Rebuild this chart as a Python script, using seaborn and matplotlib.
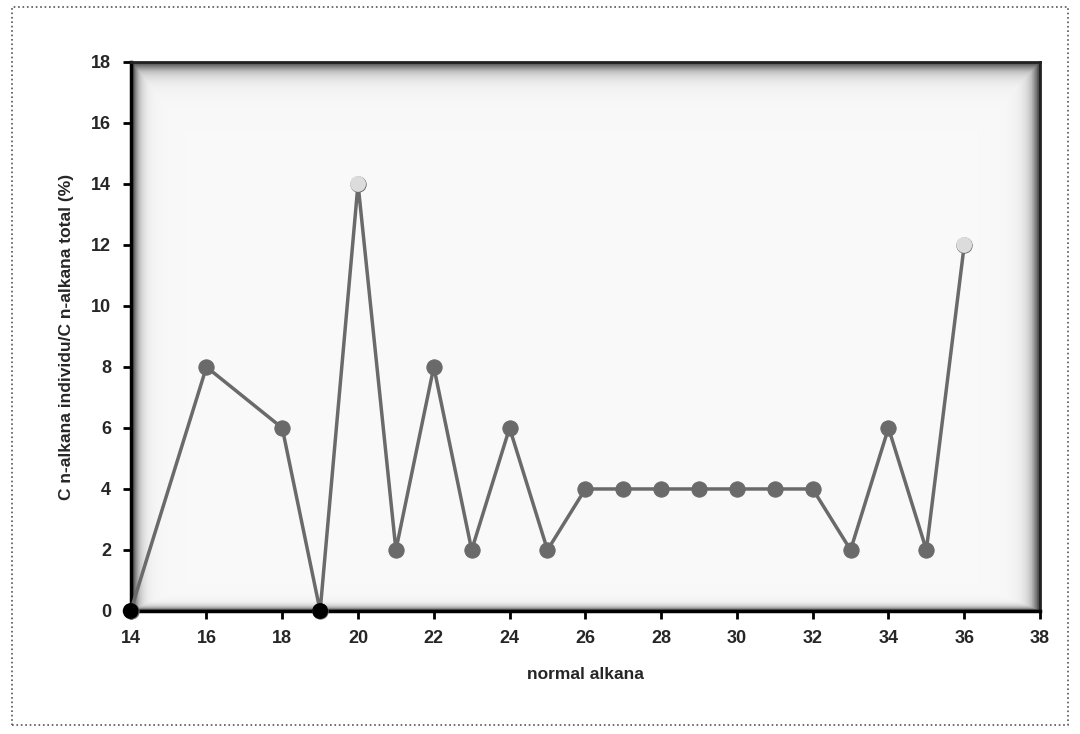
import numpy as np
import pandas as pd
import matplotlib
matplotlib.use("Agg")
import matplotlib.pyplot as plt
import seaborn as sns
from matplotlib.patches import Rectangle

sns.set_style("white")
plt.rcParams['font.family'] = ['Liberation Sans', 'DejaVu Sans']

# carbon number of the n-alkane and its share of the total
carbon = [14, 16, 18, 19, 20, 21, 22, 23, 24, 25, 26, 27, 28, 29, 30, 31, 32, 33, 34, 35, 36]
percent = [0, 8, 6, 0, 14, 2, 8, 2, 6, 2, 4, 4, 4, 4, 4, 4, 4, 2, 6, 2, 12]
df = pd.DataFrame({'carbon': carbon, 'percent': percent})

fig = plt.figure(figsize=(10.8, 7.34), dpi=100)
ax = fig.add_axes([0.121, 0.1676, 0.842, 0.748])

# scanned-look shading around the plot area
n = 500
xx = np.linspace(0, 1, n)
yy = np.linspace(0, 1, n)
X, Y = np.meshgrid(xx, yy)
dl = X / 0.010
dr = (1 - X) / 0.012
dt = (1 - Y) / 0.022
db = Y / 0.008
d = np.minimum.reduce([dl, dr, dt, db])
shade = 0.85 * np.exp(-d * 1.2) + 0.05
ax.imshow(shade, extent=[0, 1, 0, 1], transform=ax.transAxes, cmap='Greys',
          vmin=0, vmax=1, origin='lower', aspect='auto', zorder=0)

sns.lineplot(data=df, x='carbon', y='percent', ax=ax, color='#6a6a6a',
             linewidth=2.5, marker='o', markersize=11, markeredgecolor='#6a6a6a',
             zorder=3, clip_on=False)
# faded peaks and black zero points as in the scan
faded = df[df['percent'] >= 12]
zeros = df[df['percent'] == 0]
sns.scatterplot(data=faded, x='carbon', y='percent', ax=ax, color='#dcdcdc',
                s=130, edgecolor='none', zorder=4, clip_on=False)
sns.scatterplot(data=zeros, x='carbon', y='percent', ax=ax, color='black',
                s=130, edgecolor='none', zorder=5, clip_on=False)

ax.set_xlim(14, 38)
ax.set_ylim(0, 18)
ax.set_xticks(range(14, 39, 2))
ax.set_yticks(range(0, 19, 2))
ax.tick_params(axis='both', direction='out', length=6, width=2, color='black',
               labelsize=13, pad=8, bottom=True, left=True)
for lab in ax.get_xticklabels() + ax.get_yticklabels():
    lab.set_fontweight('bold')
for side in ['left', 'bottom']:
    ax.spines[side].set_linewidth(2.5)
    ax.spines[side].set_color('black')
for side in ['top', 'right']:
    ax.spines[side].set_linewidth(2)
    ax.spines[side].set_color('#222222')

ax.set_xlabel('normal alkana', fontsize=12.5, fontweight='bold', labelpad=14)
ax.set_ylabel('C n-alkana individu/C n-alkana total (%)', fontsize=12.5,
              fontweight='bold', labelpad=12)

# dotted scan frame around the figure
fig.patches.append(Rectangle((0.011, 0.012), 0.978, 0.978, transform=fig.transFigure,
                             fill=False, linestyle=':', linewidth=1.2, edgecolor='#555555'))

fig.savefig('out.png', dpi=100)
